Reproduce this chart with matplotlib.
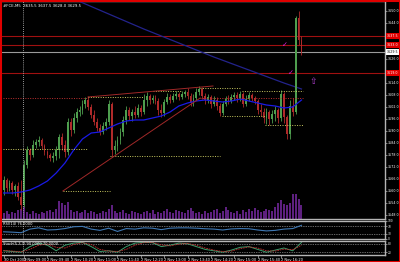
import matplotlib
matplotlib.use('Agg')
import matplotlib.pyplot as plt
from matplotlib.patches import Rectangle
import matplotlib.transforms as mtrans

W, H = 400, 262

# ---- data (5 minute bars) ----
symbol = "#FCE,M5"
first_open = 3560.5
close = [3565.5, 3561.5, 3564.0, 3560.5, 3562.5, 3557.0, 3553.0, 3573.0, 3580.5, 3578.0,
         3583.0, 3584.5, 3585.5, 3582.5, 3579.5, 3578.0, 3576.5, 3577.5, 3580.5, 3587.0,
         3583.0, 3579.5, 3594.5, 3590.5, 3596.5, 3599.5, 3600.5, 3603.5, 3605.5, 3602.0,
         3598.0, 3594.5, 3591.5, 3589.5, 3592.5, 3594.5, 3603.5, 3580.5, 3582.5, 3585.5,
         3589.5, 3595.5, 3600.5, 3597.5, 3599.5, 3598.0, 3601.5, 3599.5, 3605.5, 3607.5,
         3605.5, 3606.5, 3605.0, 3600.5, 3599.0, 3604.5, 3607.0, 3605.5, 3607.5, 3608.5,
         3607.0, 3608.5, 3609.5, 3607.5, 3604.0, 3606.5, 3609.5, 3611.0, 3607.5, 3605.5,
         3607.0, 3603.5, 3605.5, 3602.5, 3599.0, 3603.5, 3606.0, 3605.0, 3607.0, 3608.0,
         3606.5, 3608.5, 3603.5, 3606.0, 3608.0, 3606.5, 3605.0, 3600.5, 3599.5, 3596.5,
         3599.5, 3596.0, 3598.5, 3600.5, 3596.5, 3608.5, 3597.0, 3588.5, 3602.5, 3599.5,
         3646.5, 3635.5, 3629.5]
high = [3567.5, 3566.5, 3565.5, 3565.0, 3563.5, 3564.5, 3565.5, 3575.5, 3582.5, 3581.5,
        3585.5, 3586.0, 3587.5, 3586.5, 3583.5, 3580.5, 3579.0, 3579.5, 3582.5, 3588.5,
        3589.0, 3585.5, 3596.5, 3596.5, 3599.0, 3601.5, 3602.5, 3605.5, 3607.0, 3607.5,
        3603.5, 3600.5, 3596.5, 3593.5, 3594.5, 3596.5, 3605.5, 3604.5, 3585.5, 3587.5,
        3591.5, 3597.5, 3602.5, 3602.0, 3601.0, 3602.5, 3603.5, 3603.0, 3608.5, 3609.5,
        3608.5, 3608.0, 3608.0, 3606.5, 3603.5, 3606.0, 3609.0, 3608.5, 3609.0, 3610.0,
        3609.5, 3610.0, 3610.5, 3611.5, 3609.0, 3608.5, 3611.5, 3612.5, 3612.0, 3609.0,
        3608.5, 3608.0, 3607.5, 3607.0, 3604.0, 3605.0, 3607.5, 3608.0, 3608.5, 3609.5,
        3609.5, 3610.0, 3609.5, 3608.0, 3609.5, 3609.0, 3607.5, 3606.0, 3603.5, 3601.5,
        3601.5, 3600.5, 3600.5, 3602.5, 3601.5, 3610.5, 3609.5, 3598.0, 3605.5, 3606.5,
        3647.5, 3650.0, 3637.5]
low = [3558.0, 3559.5, 3560.0, 3558.5, 3557.5, 3555.5, 3550.5, 3552.0, 3571.5, 3575.5,
       3577.0, 3581.5, 3582.5, 3581.0, 3578.0, 3576.5, 3575.0, 3574.5, 3575.5, 3576.5,
       3580.5, 3577.0, 3578.0, 3587.5, 3589.0, 3594.5, 3597.5, 3598.5, 3601.5, 3600.5,
       3596.5, 3593.0, 3590.0, 3588.0, 3588.5, 3590.5, 3593.0, 3577.0, 3578.5, 3580.0,
       3583.5, 3587.5, 3593.5, 3595.5, 3595.0, 3596.5, 3597.0, 3597.5, 3598.5, 3602.5,
       3603.5, 3604.0, 3603.5, 3598.0, 3597.0, 3597.5, 3603.5, 3604.0, 3604.5, 3606.0,
       3605.5, 3606.0, 3607.0, 3606.0, 3602.5, 3602.5, 3605.5, 3608.0, 3606.0, 3603.5,
       3604.0, 3601.5, 3602.5, 3600.5, 3597.5, 3598.0, 3602.5, 3603.5, 3604.0, 3605.5,
       3604.5, 3605.0, 3602.0, 3602.5, 3605.0, 3605.0, 3603.5, 3598.5, 3597.5, 3594.0,
       3593.5, 3593.0, 3594.0, 3595.0, 3594.0, 3595.0, 3594.0, 3586.0, 3586.0, 3597.5,
       3598.5, 3633.0, 3628.0]
volume = [60, 80, 50, 70, 60, 90, 100, 120, 70, 50,
          80, 60, 50, 70, 60, 80, 90, 70, 100, 180,
          160, 140, 170, 90, 70, 80, 60, 70, 90, 60,
          80, 70, 50, 60, 80, 70, 100, 140, 80, 60,
          70, 90, 60, 50, 80, 70, 60, 50, 70, 80,
          60, 90, 50, 70, 60, 80, 100, 70, 60, 90,
          80, 70, 60, 90, 110, 80, 60, 70, 50, 80,
          60, 70, 90, 100, 60, 80, 120, 90, 70, 60,
          80, 50, 90, 70, 100, 80, 110, 90, 70, 80,
          100, 90, 80, 120, 160, 190, 150, 140, 160, 250,
          250, 200, 140]

# indicator readings, every third bar
ind_idx = list(range(0, 103, 3))
ma_fast = [3559.0, 3559.0, 3559.5, 3560.5, 3562.5, 3565.0, 3569.0, 3574.0, 3580.5, 3586.0,
           3589.0, 3589.5, 3591.5, 3593.5, 3595.0, 3595.5, 3595.5, 3596.5, 3597.5, 3599.5,
           3602.5, 3604.0, 3605.0, 3605.5, 3605.0, 3604.5, 3605.0, 3606.0, 3605.0, 3604.0,
           3603.0, 3602.5, 3601.5, 3602.0, 3605.5]
slow_idx = [24, 36, 48, 60, 72, 84, 96, 102]
ma_slow = [3656.0, 3648.5, 3641.0, 3634.0, 3627.0, 3620.5, 3614.0, 3611.0]
rsi = [40, 38, 35, 55, 62, 50, 52, 58, 68, 70, 55, 48, 60, 42, 58, 55, 62, 60, 52, 60,
       62, 62, 60, 57, 55, 50, 56, 58, 57, 50, 45, 48, 55, 58, 76]
stoch_main = [30, 25, 20, 60, 85, 70, 30, 70, 85, 90, 60, 25, 30, 20, 60, 85, 90, 88, 60, 70,
              85, 80, 60, 40, 30, 20, 35, 55, 60, 40, 20, 35, 50, 30, 90]
stoch_signal = [32, 28, 23, 40, 70, 78, 55, 50, 75, 88, 75, 40, 28, 25, 40, 70, 88, 90, 72, 65,
                78, 83, 70, 50, 35, 25, 28, 45, 58, 50, 30, 28, 42, 38, 70]

# drawn objects
red_levels = [3637.5, 3633.0, 3619.0]
dotted_levels = [  # (from bar, to bar, price, colour)
    (-0.3, 28.9, 3606.5, '#c03030'),
    (67.3, 102.6, 3606.5, '#c03030'),
    (28.9, 47.7, 3607.0, '#c8c860'),
    (51.2, 61.1, 3610.0, '#c8c860'),
    (67.3, 81.0, 3611.5, '#c8c860'),
    (81.6, 102.6, 3610.0, '#c8c860'),
    (74.8, 89.5, 3597.5, '#c8c860'),
    (89.5, 102.6, 3593.0, '#c8c860'),
    (-0.3, 28.6, 3581.0, '#c8c860'),
    (36.4, 74.1, 3577.5, '#c8c860'),
    (20.3, 36.4, 3560.0, '#c8c860'),
]
trend_lines = [((28.9, 3607.0), (71.7, 3612.5)),
               ((20.3, 3560.0), (67.3, 3606.5))]
checks = [(96.4, 3633.2), (98.4, 3619.0)]
arrow_pos = (106.0, 3614.5)
day_sep = 6.65

price_ticks = [3650.0, 3644.0, 3638.0, 3632.0, 3626.0, 3620.0, 3614.0, 3608.0, 3602.0,
               3596.0, 3590.0, 3584.0, 3578.0, 3572.0, 3566.0, 3560.0, 3554.0, 3548.0]
time_idx = [0, 7, 15, 23, 31, 39, 47, 55, 63, 71, 79, 87, 95]
time_labels = ['30 Oct 2009', '2 Nov 09:00', '2 Nov 09:40', '2 Nov 10:20', '2 Nov 11:00',
               '2 Nov 11:40', '2 Nov 12:20', '2 Nov 13:00', '2 Nov 13:40', '2 Nov 14:20',
               '2 Nov 15:00', '2 Nov 15:40', '2 Nov 16:20']

BULL, BEAR = '#4e9e4e', '#b02a2a'
GRID = '#b4b4b4'
DOT = (0, (1, 1.5))
LBL = 2.35


def box(l, t, r, b):
    return [l / W, 1 - b / H, (r - l) / W, (b - t) / H]


def style(ax):
    ax.set_facecolor('black')
    ax.spines['left'].set_visible(False)
    for s in ['top', 'bottom', 'right']:
        ax.spines[s].set_color(GRID)
        ax.spines[s].set_linewidth(1.0)
    ax.yaxis.tick_right()
    ax.tick_params(axis='y', left=False, labelleft=False, right=True, labelright=True,
                   colors=GRID, labelcolor='white', labelsize=LBL,
                   length=1.5, width=0.5, pad=0.5)
    ax.tick_params(axis='x', bottom=False, labelbottom=False)
    ax.set_xlim(-0.55, 130.6)


fig = plt.figure(figsize=(W / 100, H / 100), dpi=100, facecolor='black')
plt.rcParams['font.family'] = ['DejaVu Sans']

# main price window, volumes underneath on their own scale
ax = fig.add_axes(box(2, 1, 385, 219))
vax = ax.twinx()
vax.set_ylim(0, 2180)
vax.axis('off')
style(ax)
ax.set_ylim(3546.0, 3655.0)
ax.set_yticks(price_ticks)
# tick labels hidden behind the price boxes are left blank
shown = [p for p in price_ticks
         if all(abs(p - q) > 2.5 for q in red_levels + [close[-1]])]
ax.set_yticklabels(['%.1f' % p if p in shown else '' for p in price_ticks])

n = len(close)
xs = list(range(n))
vax.vlines(xs, 0, volume, color='#7a2aa6', lw=1.1)

opens = [first_open] + close[:-1]
for i in xs:
    o, c = opens[i], close[i]
    col = BULL if c >= o else BEAR
    ax.vlines(i, low[i], high[i], color=col, lw=0.6, zorder=4)
    ax.bar(i, max(abs(c - o), 0.4), bottom=min(o, c), width=0.62, color=col,
           lw=0, zorder=4)

ax.set_zorder(vax.get_zorder() + 1)
ax.patch.set_visible(False)
vax.patch.set_visible(True)
vax.patch.set_facecolor('black')

ax.plot(ind_idx, ma_fast, color='#1a1ae6', lw=0.9, zorder=5)
ax.plot(slow_idx, ma_slow, color='#23238c', lw=0.9, zorder=3)

for p in red_levels:
    ax.axhline(p, color='#a01010', lw=0.8, zorder=2)
ax.axhline(close[-1], color='#9a9a9a', lw=0.8, zorder=2)
for a, b, p, c in dotted_levels:
    ax.plot([a, b], [p, p], color=c, lw=0.7, ls=DOT, zorder=6)
for (a, pa), (b, pb) in trend_lines:
    ax.plot([a, b], [pa, pb], color='#a02828', lw=0.7, zorder=6)
for x, p in checks:
    ax.text(x, p, '\u2713', color='#e020e0', fontsize=5, ha='center', va='center',
            fontweight='bold', zorder=7)
ax.text(arrow_pos[0], arrow_pos[1], '\u21e7', color='#b040d0', fontsize=6.5,
        ha='center', va='center', zorder=7)

# price boxes on the right scale
tr = mtrans.blended_transform_factory(ax.transAxes, ax.transData)
for p in red_levels:
    ax.text(1.004, p, '%.1f' % p, transform=tr, color='white', fontsize=LBL,
            va='center', ha='left', clip_on=False, zorder=10,
            bbox=dict(boxstyle='square,pad=0.3', fc='#e00000', ec='none'))
ax.text(1.004, close[-1], '%.1f' % close[-1], transform=tr, color='black', fontsize=LBL,
        va='center', ha='left', clip_on=False, zorder=10,
        bbox=dict(boxstyle='square,pad=0.3', fc='white', ec='none'))

ax.text(0.003, 0.985, '%s  %.1f %.1f %.1f %.1f' % (symbol, opens[-1], high[-1], low[-1], close[-1]),
        transform=ax.transAxes, color='white', fontsize=2.8, va='top', ha='left')

# RSI window
ax2 = fig.add_axes(box(2, 221, 385, 239))
style(ax2)
ax2.set_ylim(0, 100)
ax2.set_yticks([100, 70, 30, 0])
ax2.set_yticklabels(['100', '70', '30', '0'])
ax2.tick_params(axis='y', labelsize=2.1)
for lvl in [70, 30]:
    ax2.axhline(lvl, color='#c8c8c8', lw=0.5, ls=DOT)
ax2.plot(ind_idx, rsi, color='#3f78b4', lw=0.8)
ax2.text(0.003, 0.95, 'RSI(14) %.4f' % rsi[-1], transform=ax2.transAxes,
         color='white', fontsize=2.6, va='top', ha='left')

# Stochastic window
ax3 = fig.add_axes(box(2, 241, 385, 255))
style(ax3)
ax3.set_ylim(0, 100)
ax3.set_yticks([80, 20])
ax3.set_yticklabels(['80', '20'])
ax3.tick_params(axis='y', labelsize=2.1)
for lvl in [80, 20]:
    ax3.axhline(lvl, color='#c8c8c8', lw=0.5, ls=DOT)
ax3.plot(ind_idx, stoch_main, color='#3c9c6c', lw=0.7)
ax3.plot(ind_idx, stoch_signal, color='#c03030', lw=0.6, ls=(0, (2, 1)))
ax3.text(0.003, 0.95, 'Stoch(5,3,3) %.4f %.4f' % (stoch_main[-1], stoch_signal[-1]),
         transform=ax3.transAxes, color='white', fontsize=2.6, va='top', ha='left')
ax3.tick_params(axis='x', bottom=True, labelbottom=True, colors=GRID, labelcolor='white',
                labelsize=2.6, length=2, width=0.5, pad=0.5)
ax3.set_xticks(time_idx)
ax3.set_xticklabels(time_labels, ha='left')

for a in (ax, ax2, ax3):
    a.axvline(day_sep, color='#c8c8c8', lw=0.6, ls=DOT, zorder=6)

fig.patches.append(Rectangle((0, 0), 1, 1, transform=fig.transFigure, fill=False,
                             ec='#e00000', lw=2.2))

fig.savefig('out.png', dpi=100, facecolor='black')
plt.close(fig)
